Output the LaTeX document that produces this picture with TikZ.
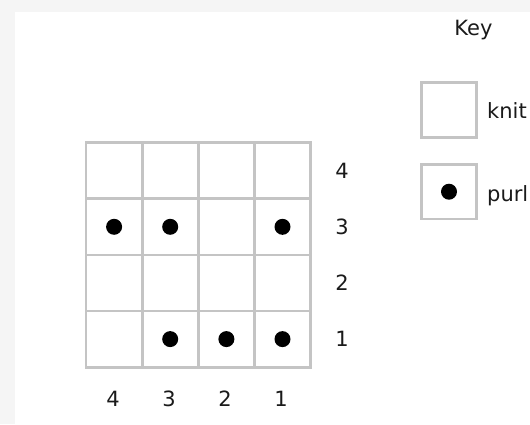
\documentclass[tikz,border=0pt]{standalone}
\usepackage{fontspec}
\setmainfont{DejaVu Sans}
\definecolor{gridgray}{HTML}{C4C4C4}
\definecolor{stripgray}{HTML}{F5F5F5}
\definecolor{textgray}{HTML}{1A1A1A}
\begin{document}
\begin{tikzpicture}[x=1pt,y=-1pt,
  cell/.style={draw=gridgray,line width=2.7pt},
  purldot/.style={fill=black,draw=none},
  lbl/.style={font=\fontsize{21}{25}\selectfont,text=textgray,inner sep=0pt},
  keylbl/.style={font=\fontsize{21}{25}\selectfont,text=textgray,inner sep=0pt,anchor=base west}]
\useasboundingbox (0,0) rectangle (530,424);
\fill[stripgray] (0,0) rectangle (530,12);
\fill[stripgray] (0,0) rectangle (15,424);
% grid
\foreach \i in {0,...,3}{
  \foreach \j in {0,...,3}{
    \draw[cell] ({86+\i*56.15},{142.6+\j*56.15}) rectangle ++(56.15,56.15);
  }
}
% purl dots
\foreach \cx/\cy in {114.1/226.8,170.2/226.8,282.5/226.8,170.2/339.1,226.4/339.1,282.5/339.1}{
  \fill[purldot] (\cx,\cy) circle (8pt);
}
% row labels
\node[lbl] (r4) at (342,170.7) {4};
\node[lbl] (r3) at (342,226.8) {3};
\node[lbl] (r2) at (342,283.0) {2};
\node[lbl] (r1) at (342,339.1) {1};
% column labels
\node[lbl] (c4) at (113,398.8) {4};
\node[lbl] (c3) at (169,398.8) {3};
\node[lbl] (c2) at (225,398.8) {2};
\node[lbl] (c1) at (281,398.8) {1};
% key
\node[lbl,anchor=base] (key) at (473.5,35) {Key};
\node[cell,minimum size=54.5pt,inner sep=0pt] (kknit) at (449,110) {};
\node[cell,minimum size=54.5pt,inner sep=0pt] (kpurl) at (449,191.7) {};
\fill[purldot] (kpurl.center) circle (8pt);
\node[keylbl] (tknit) at (487,118.3) {knit};
\node[keylbl] (tpurl) at (487,201) {purl};
\end{tikzpicture}
\end{document}
